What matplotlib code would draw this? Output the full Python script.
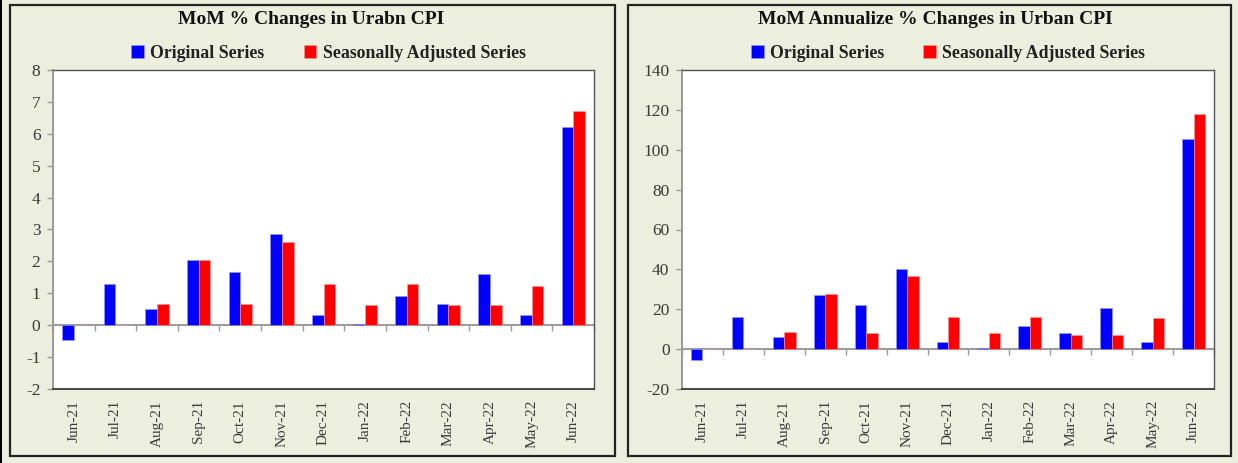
import matplotlib
matplotlib.use("Agg")
import matplotlib.pyplot as plt
import numpy as np
from matplotlib.patches import Rectangle

months = ["Jun-21", "Jul-21", "Aug-21", "Sep-21", "Oct-21", "Nov-21", "Dec-21",
          "Jan-22", "Feb-22", "Mar-22", "Apr-22", "May-22", "Jun-22"]

mom_original = [-0.45, 1.28, 0.50, 2.03, 1.68, 2.85, 0.32, 0.05, 0.93, 0.68, 1.60, 0.32, 6.20]
mom_sa = [0.0, 0.0, 0.68, 2.03, 0.68, 2.62, 1.28, 0.63, 1.28, 0.63, 0.63, 1.23, 6.72]

ann_original = [-5.3, 16.3, 6.0, 27.0, 22.0, 40.0, 3.8, 0.6, 11.5, 8.2, 20.5, 3.8, 105.5]
ann_sa = [0.0, 0.0, 8.5, 27.5, 8.0, 36.5, 16.3, 8.0, 16.3, 7.3, 7.3, 15.8, 118.0]

titles = ["MoM % Changes in Urabn CPI", "MoM Annualize % Changes in Urban CPI"]
series_names = ["Original Series", "Seasonally Adjusted Series"]

BG = "#ECEEDE"
BLUE = "#0000FF"
RED = "#FF0000"
TXT = "#3a3a3a"

plt.rcParams['font.family'] = ['Liberation Serif', 'DejaVu Serif']

W, H = 1238, 463
fig = plt.figure(figsize=(W / 100, H / 100), dpi=100, facecolor=BG)

def fx(px):
    return px / W

def fy(py):
    return 1 - py / H

# panel frames
for (x0, x1) in [(10, 615), (628, 1231)]:
    fig.patches.append(Rectangle((fx(x0), fy(456)), fx(x1 - x0), (456 - 5) / H,
                                 transform=fig.transFigure, facecolor="none",
                                 edgecolor="#222222", linewidth=1.6, zorder=0))
fig.patches.append(Rectangle((0, 0), fx(2), 1, transform=fig.transFigure,
                             facecolor="#000000", edgecolor="none"))

panels = [
    dict(ax=(53, 594), data=(mom_original, mom_sa), ylim=(-2, 8), yticks=np.arange(-2, 9, 1),
         title_x=311, leg_x=328.5),
    dict(ax=(682, 1214), data=(ann_original, ann_sa), ylim=(-20, 140), yticks=np.arange(-20, 141, 20),
         title_x=935, leg_x=948),
]

x = np.arange(len(months))
bw = 0.28
for i, p in enumerate(panels):
    l, r = p["ax"]
    ax = fig.add_axes([fx(l), fy(389), fx(r - l), (389 - 70) / H])
    ax.set_facecolor("white")
    orig, sa = p["data"]
    ax.bar(x - bw / 2, orig, width=bw, color=BLUE, edgecolor="#9a9aff", linewidth=0.4,
           label=series_names[0], zorder=2)
    ax.bar(x + bw / 2, sa, width=bw, color=RED, edgecolor="#ff9a9a", linewidth=0.4,
           label=series_names[1], zorder=2)
    ax.set_xlim(-0.5, len(months) - 0.5)
    ax.set_ylim(*p["ylim"])
    ax.set_yticks(p["yticks"])
    ax.set_yticklabels([str(int(v)) for v in p["yticks"]])
    ax.set_xticks(x)
    ax.set_xticklabels(months, rotation=90)
    ax.tick_params(axis="x", length=0, pad=8, labelsize=11, labelcolor=TXT)
    ax.tick_params(axis="y", length=4, width=1, color="#999999", direction="out",
                   pad=5, labelsize=12.5, labelcolor=TXT)
    for s in ["top", "right", "bottom"]:
        ax.spines[s].set_color("#555555")
        ax.spines[s].set_linewidth(1.0)
    ax.spines["bottom"].set_color("#444444")
    ax.spines["bottom"].set_linewidth(1.4)
    ax.spines["left"].set_color("#999999")
    ax.spines["left"].set_linewidth(1.4)

    # zero axis line with category-boundary ticks
    sec = ax.secondary_xaxis(0, transform=ax.transData)
    sec.set_xticks(np.arange(-0.5, len(months) + 0.5, 1.0))
    sec.set_xticklabels([])
    sec.tick_params(axis="x", length=4, width=1, color="#999999", direction="out")
    sec.spines["bottom"].set_color("#999999")
    sec.spines["bottom"].set_linewidth(1.4)

    fig.text(fx(p["title_x"]), fy(19), titles[i],
             ha="center", va="center", fontsize=14, fontweight="bold", color="#111111")
    leg = fig.legend(*ax.get_legend_handles_labels(), loc="center",
                     bbox_to_anchor=(fx(p["leg_x"]), fy(53)),
                     ncol=2, frameon=False, handlelength=0.72, handleheight=0.72,
                     handletextpad=0.35, columnspacing=2.2, borderaxespad=0.0, borderpad=0.0,
                     prop={"weight": "bold", "size": 12.8})
    for t in leg.get_texts():
        t.set_color("#222222")

fig.savefig("out.png", dpi=100, facecolor=BG)
